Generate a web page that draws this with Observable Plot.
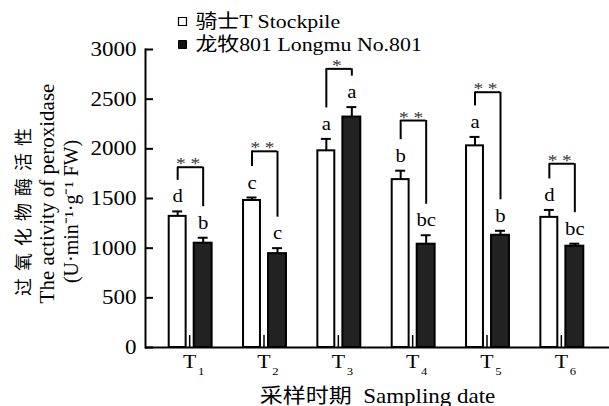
<!DOCTYPE html>
<html>
<head>
<meta charset="utf-8">
<script src="https://cdn.jsdelivr.net/npm/d3@7"></script>
<script src="https://cdn.jsdelivr.net/npm/@observablehq/plot@0.6"></script>
<style>
  html, body { margin: 0; padding: 0; background: #fff; }
  #chart svg { display: block; }
</style>
</head>
<body>
<div id="chart"></div>
<script>
// ---- data ----
const categories = ["T1", "T2", "T3", "T4", "T5", "T6"];
const tickSubscripts = ["1", "2", "3", "4", "5", "6"];
const stockpile = [1320, 1480, 1980, 1690, 2030, 1310];
const stockpileErr = [50, 30, 120, 90, 90, 75];
const longmu = [1050, 945, 2320, 1040, 1130, 1020];
const longmuErr = [55, 55, 100, 90, 45, 25];
const stockpileLetters = ["d", "c", "a", "b", "a", "d"];
const longmuLetters = ["b", "c", "a", "bc", "b", "bc"];
const significance = ["**", "**", "*", "**", "**", "**"];
const bracketTop = [1815, 1975, 2805, 2285, 2570, 1850];
const yTicks = [0, 500, 1000, 1500, 2000, 2500, 3000];
const seriesNames = ["骑士T Stockpile", "龙牧801 Longmu No.801"];
const yTitle = ["过氧化物酶活性", "The activity of peroxidase", "(U·min⁻¹·g⁻¹ FW)"];
const xTitle = "采样时期  Sampling date";

// ---- tables ----
const stock = categories.map((c, i) => ({date: c, mean: stockpile[i], top: stockpile[i] + stockpileErr[i], letter: stockpileLetters[i]}));
const longm = categories.map((c, i) => ({date: c, mean: longmu[i], top: longmu[i] + longmuErr[i], letter: longmuLetters[i]}));
const brackets = categories.map((c, i) => ({date: c, y: bracketTop[i], sig: significance[i], stockTop: stock[i].top, longTop: longm[i].top}));
const subs = categories.map((c, i) => ({date: c, sub: tickSubscripts[i]}));

const font = "'Liberation Serif', 'Noto Sans CJK SC', serif";
const LW = 2;

const chart = Plot.plot({
  width: 609,
  height: 406,
  marginTop: 49,
  marginBottom: 59,
  marginLeft: 145,
  marginRight: 0,
  style: {fontFamily: font, background: "#fff", color: "#000", overflow: "visible"},
  x: {domain: categories, range: [152, 598], padding: 0, round: false},
  y: {domain: [0, 3000]},
  marks: [
    // bars
    Plot.barY(stock, {x: "date", y: "mean", fill: "#fff", stroke: "#000", strokeWidth: LW, insetLeft: 16.7, insetRight: 40.7}),
    Plot.barY(longm, {x: "date", y: "mean", fill: "#222", stroke: "#000", strokeWidth: LW, insetLeft: 41.7, insetRight: 14.7}),
    // error bars
    Plot.ruleX(stock, {x: "date", y1: "mean", y2: "top", dx: -12, strokeWidth: LW}),
    Plot.tickY(stock, {x: "date", y: "top", insetLeft: 20.2, insetRight: 44.2, strokeWidth: LW}),
    Plot.ruleX(longm, {x: "date", y1: "mean", y2: "top", dx: 13.5, strokeWidth: LW}),
    Plot.tickY(longm, {x: "date", y: "top", insetLeft: 45.7, insetRight: 18.7, strokeWidth: LW}),
    // letters
    Plot.text(stock, {x: "date", y: "top", text: "letter", dx: -12, dy: -9, lineAnchor: "bottom", fontSize: 18, fontFamily: font}),
    Plot.text(longm, {x: "date", y: "top", text: "letter", dx: 13.5, dy: -9, lineAnchor: "bottom", fontSize: 18, fontFamily: font}),
    // significance brackets
    Plot.ruleX(brackets, {x: "date", y1: "y", y2: "stockTop", dx: -12, insetBottom: 31, strokeWidth: LW}),
    Plot.ruleX(brackets, {x: "date", y1: "y", y2: "longTop", dx: 13.5, insetBottom: 31, strokeWidth: LW}),
    Plot.tickY(brackets, {x: "date", y: "y", insetLeft: 25.2, insetRight: 23.7, strokeWidth: LW}),
    Plot.text(brackets, {x: "date", y: "y", text: "sig", dx: 0.75, dy: 2, lineAnchor: "bottom", fontSize: 17, fill: "#333", fontFamily: font}),
    // axes lines
    Plot.frame({anchor: "left", strokeWidth: LW}),
    Plot.ruleY([0], {strokeWidth: LW}),
    // y axis
    Plot.axisY({ticks: yTicks, tickSize: 8, dx: 8, tickFormat: () => "", label: null, strokeWidth: LW}),
    Plot.axisY({ticks: yTicks, tickSize: 0, tickPadding: 9, tickFormat: d => String(d), fontSize: 20, fontFamily: font, label: null}),
    // x axis (inward tick + T with subscript)
    Plot.axisX({tickSize: 12, dy: -12, tickFormat: () => "", label: null, strokeWidth: 1.5}),
    Plot.axisX({tickSize: 0, tickPadding: 7, tickFormat: () => "T", fontSize: 19, fontFamily: font, label: null}),
    Plot.text(subs, {x: "date", text: "sub", frameAnchor: "bottom", lineAnchor: "bottom", dx: 11.5, dy: 27, fontSize: 11, fontFamily: font}),
    // axis titles
    Plot.text([xTitle], {frameAnchor: "bottom", textAnchor: "middle", lineAnchor: "middle", dy: 49, fontSize: 20, fontFamily: font}),
    Plot.text([yTitle[0]], {frameAnchor: "left", textAnchor: "middle", lineAnchor: "middle", rotate: -90, dx: -121, dy: 10, fontSize: 18, fontFamily: font}),
    Plot.text([yTitle[1]], {frameAnchor: "left", textAnchor: "middle", lineAnchor: "middle", rotate: -90, dx: -98, dy: -5, fontSize: 21, fontFamily: font}),
    Plot.text([yTitle[2]], {frameAnchor: "left", textAnchor: "middle", lineAnchor: "middle", rotate: -90, dx: -74, dy: 13, fontSize: 20, fontFamily: font}),
    // legend
    Plot.dot([seriesNames[0]], {x: null, y: null, frameAnchor: "top-left", dx: 37, dy: -28, symbol: "square", r: 4.5, fill: "#fff", stroke: "#000", strokeWidth: 1.2}),
    Plot.dot([seriesNames[1]], {x: null, y: null, frameAnchor: "top-left", dx: 37, dy: -5, symbol: "square", r: 4.5, fill: "#111", stroke: "#000", strokeWidth: 1}),
    Plot.text([seriesNames[0]], {frameAnchor: "top-left", dx: 50, dy: -28, textAnchor: "start", lineAnchor: "middle", fontSize: 19, fontFamily: font}),
    Plot.text([seriesNames[1]], {frameAnchor: "top-left", dx: 50, dy: -5, textAnchor: "start", lineAnchor: "middle", fontSize: 19, fontFamily: font})
  ]
});

document.getElementById("chart").appendChild(chart);

// horizontal stretch of upright text to match the reference's wide lettering
const SX = 1.15;
chart.querySelectorAll("text").forEach(t => {
  const own = t.getAttribute("transform") || "";
  const par = (t.parentNode && t.parentNode.getAttribute && t.parentNode.getAttribute("transform")) || "";
  const content = t.textContent;
  if (content === yTitle[0]) { t.setAttribute("letter-spacing", "7"); }
  if (content.includes("*")) { t.setAttribute("letter-spacing", "4"); }
  if (own.includes("rotate") || par.includes("rotate")) return;
  const x = parseFloat(t.getAttribute("x") || "0");
  t.setAttribute("transform", `${own} translate(${x},0) scale(${SX},1) translate(${-x},0)`.trim());
});
</script>
</body>
</html>
